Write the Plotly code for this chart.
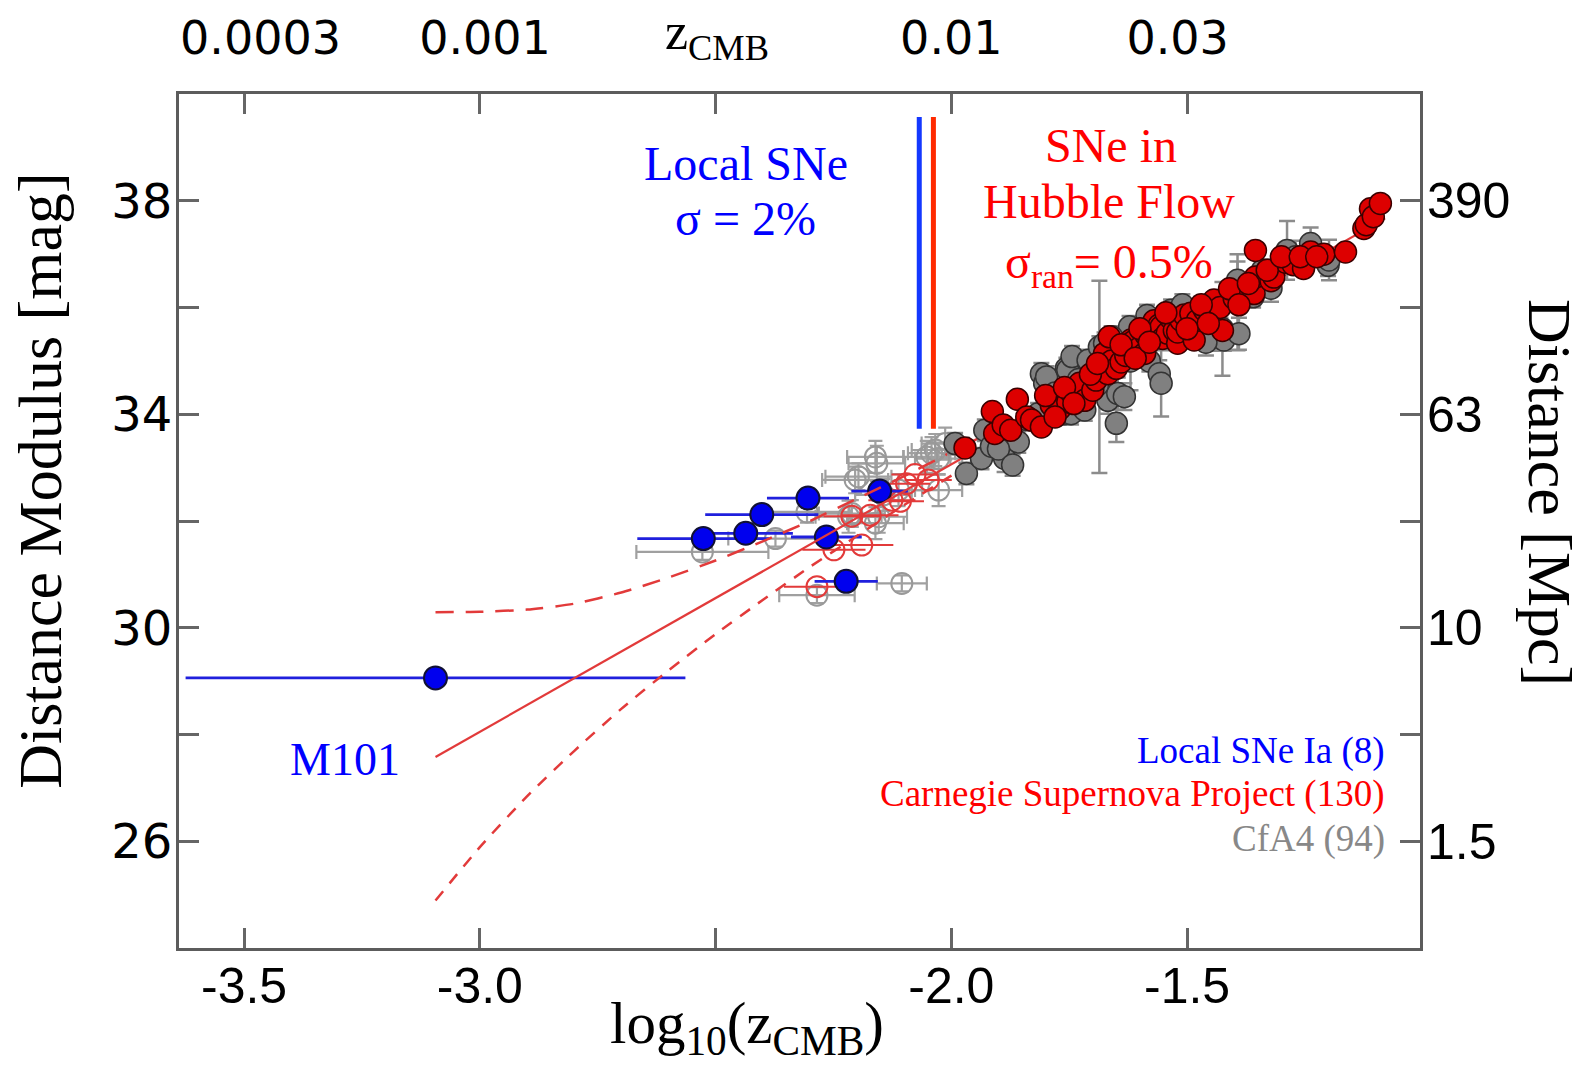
import plotly.graph_objects as go

# ---------------- data ----------------
# Local SNe Ia (Cepheid hosts), blue
local_logz = [-3.094, -2.526, -2.436, -2.402, -2.304, -2.265, -2.223, -2.152]
local_mu = [29.06, 31.67, 31.77, 32.12, 32.43, 31.70, 30.87, 32.56]
local_xerr = [0.53, 0.14, 0.10, 0.12, 0.087, 0.075, 0.067, 0.06]

# CfA4 local (open grey)
cfa_loc_logz = [-2.528, -2.373, -2.306, -2.285, -2.218, -2.211, -2.204, -2.197, -2.161, -2.161,
                -2.158, -2.154, -2.144, -2.112, -2.105, -2.052, -2.042, -2.034, -2.027, -2.027, -2.013]
cfa_loc_mu = [31.42, 31.67, 32.17, 30.61, 32.08, 32.14, 32.77, 32.83, 31.96, 33.20,
              33.08, 32.08, 32.49, 32.58, 30.83, 33.20, 33.27, 33.33, 32.58, 33.17, 33.45]
cfa_loc_xerr = [0.14, 0.10, 0.09, 0.08, 0.07, 0.07, 0.07, 0.07, 0.06, 0.06,
                0.06, 0.06, 0.06, 0.05, 0.053, 0.05, 0.05, 0.05, 0.05, 0.05, 0.05]
cfa_loc_yerr = [0.15, 0.15, 0.2, 0.15, 0.3, 0.25, 0.25, 0.25, 0.3, 0.3,
                0.33, 0.3, 0.3, 0.3, 0.15, 0.3, 0.3, 0.3, 0.3, 0.3, 0.3]

# CSP local (open red)
csp_loc_logz = [-2.285, -2.249, -2.211, -2.190, -2.172, -2.126, -2.108, -2.095, -2.077, -2.049]
csp_loc_mu = [30.77, 31.46, 32.09, 31.55, 32.11, 32.39, 32.37, 32.70, 32.87, 32.77]
csp_loc_xerr = [0.07, 0.067, 0.06, 0.067, 0.06, 0.05, 0.05, 0.05, 0.05, 0.05]

# CfA4 Hubble flow (filled grey)
cfa_logz = [-1.992, -1.968, -1.936, -1.929, -1.915, -1.887, -1.858, -1.840, -1.816, -1.809,
            -1.802, -1.798, -1.760, -1.756, -1.753, -1.746, -1.744, -1.730, -1.717, -1.710,
            -1.686, -1.686, -1.675, -1.668, -1.650, -1.647, -1.633, -1.622, -1.620, -1.600,
            -1.580, -1.559, -1.555, -1.534, -1.532, -1.480, -1.470, -1.447, -1.429, -1.425,
            -1.422, -1.393, -1.393, -1.390, -1.340, -1.330, -1.322, -1.288, -1.270, -1.238,
            -1.201, -1.199, -1.900, -1.870, -1.780, -1.720, -1.690, -1.660, -1.585, -1.510,
            -1.460, -1.360]
cfa_mu = [33.45, 32.89, 33.17, 33.70, 33.40, 33.17, 33.48, 33.90, 34.01, 34.76,
          34.58, 34.70, 34.01, 34.86, 34.83, 34.01, 35.08, 34.65, 34.08, 35.01,
          35.26, 34.70, 35.33, 34.26, 33.83, 34.39, 34.33, 35.64, 35.00, 35.45,
          35.00, 34.76, 34.58, 35.95, 35.50, 35.70, 36.00, 35.44, 35.51, 35.60,
          35.39, 36.51, 36.10, 35.51, 36.70, 36.55, 36.36, 37.07, 36.95, 37.20,
          36.79, 36.89, 33.35, 33.05, 34.40, 34.35, 34.55, 35.45, 35.85, 36.05,
          35.35, 36.20]
cfa_yerr = [0.2, 0.2, 0.2, 0.2, 0.2, 0.25, 0.2, 0.2, 0.2, 0.2,
            0.25, 0.2, 0.2, 0.2, 0.2, 0.2, 0.2, 0.2, 0.2, 0.2,
            0.2, 1.8, 0.2, 0.25, 0.35, 0.3, 0.25, 0.2, 0.55, 0.2,
            0.2, 0.25, 0.62, 0.2, 0.2, 0.3, 0.2, 0.25, 0.3, 0.88,
            0.2, 0.35, 0.9, 0.3, 0.2, 0.25, 0.25, 0.55, 0.3, 0.3,
            0.2, 0.38, 0.2, 0.2, 0.2, 0.2, 0.2, 0.2, 0.2, 0.2,
            0.25, 0.2]

# CSP Hubble flow (filled red)
csp_logz = [-1.971, -1.913, -1.908, -1.890, -1.874, -1.860, -1.840, -1.830, -1.809, -1.788,
            -1.770, -1.753, -1.745, -1.728, -1.717, -1.700, -1.693, -1.675, -1.668, -1.660,
            -1.650, -1.640, -1.630, -1.619, -1.615, -1.600, -1.590, -1.587, -1.570, -1.559,
            -1.555, -1.552, -1.542, -1.535, -1.527, -1.520, -1.520, -1.513, -1.506, -1.492,
            -1.485, -1.478, -1.463, -1.443, -1.430, -1.425, -1.400, -1.378, -1.358, -1.355,
            -1.355, -1.322, -1.316, -1.291, -1.275, -1.253, -1.238, -1.210, -1.164, -1.125,
            -1.120, -1.111, -1.105, -1.090, -1.800, -1.780, -1.760, -1.740, -1.705, -1.690,
            -1.665, -1.640, -1.610, -1.600, -1.580, -1.545, -1.500, -1.470, -1.455, -1.410,
            -1.390, -1.370, -1.330, -1.300, -1.260, -1.225]
csp_mu = [33.37, 34.05, 33.64, 33.80, 33.70, 34.28, 33.95, 33.89, 33.76, 34.17,
          34.10, 34.23, 34.40, 34.58, 34.26, 34.45, 34.64, 35.14, 34.76, 35.00,
          34.86, 34.98, 35.10, 35.39, 35.36, 35.25, 35.14, 35.48, 35.75, 35.67,
          35.64, 35.42, 35.52, 35.80, 35.57, 35.33, 35.54, 35.76, 35.86, 35.89,
          35.39, 35.76, 35.95, 36.14, 36.00, 35.57, 36.17, 36.30, 36.26, 36.57,
          37.07, 36.50, 36.57, 36.85, 36.80, 36.73, 37.04, 37.00, 37.04, 37.48,
          37.55, 37.85, 37.70, 37.95, 34.35, 33.95, 34.50, 34.20, 34.75, 34.95,
          35.45, 35.30, 35.05, 35.60, 35.35, 35.90, 35.60, 36.05, 35.70, 36.35,
          36.05, 36.45, 36.70, 36.95, 36.95, 36.95]

# Hubble-law fit and its envelope
fit_logz = [-3.094, -1.08]
fit_mu = [27.58, 37.67]
band_logz = [-3.094, -3.0, -2.9, -2.8, -2.7, -2.6, -2.5, -2.4, -2.3, -2.2, -2.1, -2.0, -1.9, -1.8]
band_upper = [30.29, 30.30, 30.34, 30.45, 30.66, 30.94, 31.26, 31.62, 32.00, 32.42, 32.84, 33.29, 33.74, 34.21]
band_lower = [24.89, 25.89, 26.84, 27.69, 28.48, 29.20, 29.88, 30.52, 31.14, 31.72, 32.30, 32.85, 33.40, 33.93]

# Divider lines between local and Hubble-flow samples
divider_blue_x = -2.068
divider_red_x = -2.038
divider_y = [33.73, 39.57]

# Axis ticks
x_ticks = [-3.5, -3.0, -2.0, -1.5]
x_ticktext = ["-3.5", "-3.0", "-2.0", "-1.5"]
x_minor = [-2.5]
top_tickvals = [-3.465, -2.989, -2.0, -1.52]
top_ticktext = ["0.0003", "0.001", "0.01", "0.03"]
y_ticks = [26, 30, 34, 38]
y_ticktext = ["26", "30", "34", "38"]
y_minor = [28, 32, 36]
dist_ticks = [26, 30, 34, 38]
dist_ticktext = ["1.5", "10", "63", "390"]

X_RANGE = [-3.638, -1.006]
Y_RANGE = [24.0, 40.0]

SANS = "Liberation Sans, Arial, sans-serif"
WIDE = "DejaVu Sans, sans-serif"
SERIF = "Liberation Serif, Times New Roman, serif"
BLUE = "#0000ff"
RED = "#ff0000"
LINE_RED = "#e23a3a"

fig = go.Figure()

# CfA4 local (open grey)
fig.add_trace(go.Scatter(
    x=cfa_loc_logz, y=cfa_loc_mu, mode="markers",
    marker=dict(symbol="circle-open", size=21, color="#999999", line=dict(width=2, color="#999999")),
    error_x=dict(type="data", array=cfa_loc_xerr, color="#a0a0a0", thickness=2.2, width=7),
    error_y=dict(type="data", array=cfa_loc_yerr, color="#a0a0a0", thickness=2.2, width=7),
    showlegend=False, hoverinfo="skip"))

# CSP local (open red)
fig.add_trace(go.Scatter(
    x=csp_loc_logz, y=csp_loc_mu, mode="markers",
    marker=dict(symbol="circle-open", size=21, color=LINE_RED, line=dict(width=2, color=LINE_RED)),
    error_x=dict(type="data", array=csp_loc_xerr, color=LINE_RED, thickness=2, width=0),
    showlegend=False, hoverinfo="skip"))

# Local SNe Ia (blue)
fig.add_trace(go.Scatter(
    x=local_logz, y=local_mu, mode="markers",
    marker=dict(size=23, color="#0000ee", line=dict(width=2, color="#111133")),
    error_x=dict(type="data", array=local_xerr, color="#2020dd", thickness=2.8, width=0),
    showlegend=False, hoverinfo="skip"))

# Fit line and envelope
fig.add_trace(go.Scatter(x=fit_logz, y=fit_mu, mode="lines",
                         line=dict(color=LINE_RED, width=2.2), showlegend=False, hoverinfo="skip"))
fig.add_trace(go.Scatter(x=band_logz, y=band_upper, mode="lines", line_shape="spline",
                         line=dict(color=LINE_RED, width=2.5, dash="18px,12px", smoothing=0.6),
                         showlegend=False, hoverinfo="skip"))
fig.add_trace(go.Scatter(x=band_logz, y=band_lower, mode="lines", line_shape="spline",
                         line=dict(color=LINE_RED, width=2.5, dash="12px,10px", smoothing=0.6),
                         showlegend=False, hoverinfo="skip"))

# CfA4 Hubble flow (filled grey)
fig.add_trace(go.Scatter(
    x=cfa_logz, y=cfa_mu, mode="markers",
    marker=dict(size=22, color="#808080", line=dict(width=1.5, color="#333333")),
    error_y=dict(type="data", array=cfa_yerr, color="#8c8c8c", thickness=2.5, width=8),
    showlegend=False, hoverinfo="skip"))

# CSP Hubble flow (filled red)
fig.add_trace(go.Scatter(
    x=csp_logz, y=csp_mu, mode="markers",
    marker=dict(size=22, color="#dd0000", line=dict(width=1.5, color="#3a0000")),
    showlegend=False, hoverinfo="skip"))

# divider lines
fig.add_trace(go.Scatter(x=[divider_blue_x, divider_blue_x], y=divider_y, mode="lines",
                         line=dict(color="#1438ff", width=5), showlegend=False, hoverinfo="skip"))
fig.add_trace(go.Scatter(x=[divider_red_x, divider_red_x], y=divider_y, mode="lines",
                         line=dict(color="#ff2a00", width=5), showlegend=False, hoverinfo="skip"))

# invisible trace to activate secondary axes
fig.add_trace(go.Scatter(x=[X_RANGE[0]], y=[Y_RANGE[0]], xaxis="x2", yaxis="y2", mode="markers",
                         marker=dict(opacity=0), showlegend=False, hoverinfo="skip"))

tick_style = dict(ticks="inside", ticklen=20, tickwidth=2.5, tickcolor="#666666")
axis_common = dict(showgrid=False, zeroline=False, showline=True, linecolor="#5c5c5c", linewidth=3,
                   mirror="ticks", **tick_style)

fig.update_layout(
    width=1587, height=1069,
    margin=dict(l=179, r=167, t=94, b=121),
    paper_bgcolor="white", plot_bgcolor="white",
    xaxis=dict(range=X_RANGE, tickvals=x_ticks, ticktext=x_ticktext, ticklabelstandoff=-8,
               tickfont=dict(family=SANS, size=50, color="black"),
               minor=dict(tickvals=x_minor, showgrid=False, **tick_style), **axis_common),
    yaxis=dict(range=Y_RANGE, tickvals=y_ticks, ticktext=y_ticktext, ticklabelstandoff=-6,
               tickfont=dict(family=WIDE, size=48, color="black"),
               minor=dict(tickvals=y_minor, showgrid=False, **tick_style), **axis_common),
    xaxis2=dict(range=X_RANGE, overlaying="x", side="top", tickvals=top_tickvals, ticktext=top_ticktext,
                showgrid=False, zeroline=False, showline=False, ticks="", ticklabelstandoff=30,
                tickfont=dict(family=WIDE, size=46, color="black")),
    yaxis2=dict(range=Y_RANGE, overlaying="y", side="right", tickvals=dist_ticks, ticktext=dist_ticktext,
                showgrid=False, zeroline=False, showline=False, ticks="", ticklabelstandoff=6,
                tickfont=dict(family=SANS, size=50, color="black")),
)

ann = []
def A(text, x, y, size, color, xref="x", yref="y", xanchor="center", yanchor="middle", angle=0):
    ann.append(dict(text=text, x=x, y=y, xref=xref, yref=yref, xanchor=xanchor, yanchor=yanchor,
                    showarrow=False, textangle=angle, font=dict(family=SERIF, size=size, color=color)))

A("Local SNe", -2.436, 38.69, 48, BLUE)
A("σ = 2%", -2.436, 37.67, 48, BLUE)
A("SNe in", -1.661, 39.03, 48, RED)
A("Hubble Flow", -1.666, 37.99, 48, RED)
A("σ<sub>ran</sub>= 0.5%", -1.666, 36.80, 48, RED)
A("M101", -3.287, 27.54, 46, BLUE)
A("Local SNe Ia (8)", -1.075, 27.69, 37, BLUE, xanchor="right")
A("Carnegie Supernova Project (130)", -1.075, 26.88, 37, RED, xanchor="right")
A("CfA4 (94)", -1.075, 26.04, 37, "#888888", xanchor="right")
# axis titles
A("Distance Modulus [mag]", -0.112, 0.547, 62, "black", xref="paper", yref="paper", angle=-90)
A("Distance [Mpc]", 1.1047, 0.533, 62, "black", xref="paper", yref="paper", angle=90)
A("log<sub>10</sub>(z<sub>CMB</sub>)", 0.458, -0.093, 59, "black", xref="paper", yref="paper")
A("z<sub>CMB</sub>", 0.4333, 1.069, 52, "black", xref="paper", yref="paper")

fig.update_layout(annotations=ann)

fig.write_html("out.html")
